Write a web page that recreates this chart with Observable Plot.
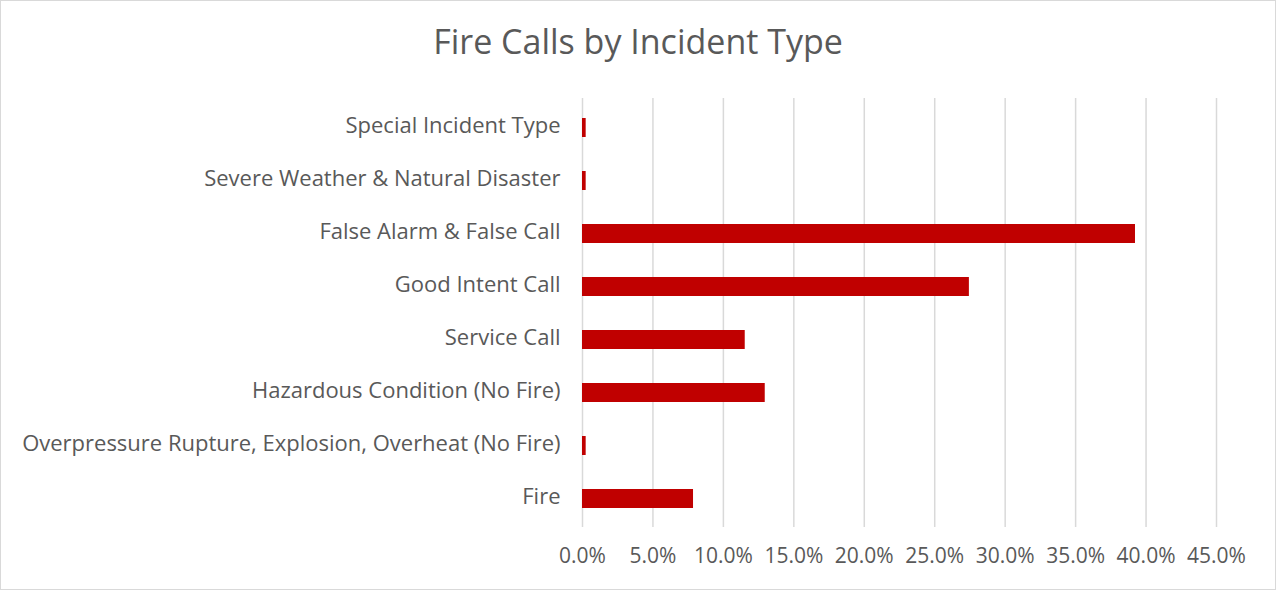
<!DOCTYPE html>
<html>
<head>
<meta charset="utf-8">
<script src="https://cdn.jsdelivr.net/npm/d3@7"></script>
<script src="https://cdn.jsdelivr.net/npm/@observablehq/plot@0.6"></script>
<style>
  html, body { margin: 0; padding: 0; background: #fff; }
  #wrap { position: relative; width: 1276px; height: 590px; box-sizing: border-box; border: 1px solid #d9d9d9; overflow: hidden; }
  #title { position: absolute; left: 0; right: 0; top: 17px; text-align: center; font-family: "Open Sans", sans-serif; font-size: 34px; line-height: 46px; color: #595959; }
  #chart { position: absolute; left: 0; top: 0; }
</style>
</head>
<body>
<div id="wrap">
  <div id="chart"></div>
  <div id="title">Fire Calls by Incident Type</div>
</div>
<script>
const categories = [
  "Special Incident Type",
  "Severe Weather & Natural Disaster",
  "False Alarm & False Call",
  "Good Intent Call",
  "Service Call",
  "Hazardous Condition (No Fire)",
  "Overpressure Rupture, Explosion, Overheat (No Fire)",
  "Fire"
];
const shares = [0.0026, 0.0026, 0.3925, 0.2746, 0.1155, 0.1297, 0.0026, 0.0788];
const xTicks = [0, 0.05, 0.10, 0.15, 0.20, 0.25, 0.30, 0.35, 0.40, 0.45];

const data = categories.map((c, i) => ({category: c, value: shares[i]}));
const fmt = d3.format(".1%");

const chart = Plot.plot({
  width: 1274,
  height: 588,
  marginLeft: 581,
  marginRight: 59,
  marginTop: 97,
  marginBottom: 62,
  style: {fontFamily: "'Open Sans', sans-serif", fontSize: "20px", color: "#595959", background: "transparent"},
  x: {domain: [0, 0.45], ticks: xTicks, tickFormat: fmt},
  y: {domain: categories, paddingInner: 0.65, paddingOuter: 0.325},
  marks: [
    Plot.gridX(xTicks, {stroke: "#d9d9d9", strokeOpacity: 1, strokeWidth: 1.5}),
    Plot.barX(data, {x: "value", y: "category", fill: "#c00000"}),
    Plot.axisX({ticks: xTicks, tickFormat: fmt, tickSize: 0, tickPadding: 21, label: null, fill: "#595959", fontSize: 21}),
    Plot.axisY({tickSize: 0, tickPadding: 22, label: null, fill: "#595959", fontSize: 22, dy: -2})
  ]
});
document.getElementById("chart").appendChild(chart);
</script>
</body>
</html>
